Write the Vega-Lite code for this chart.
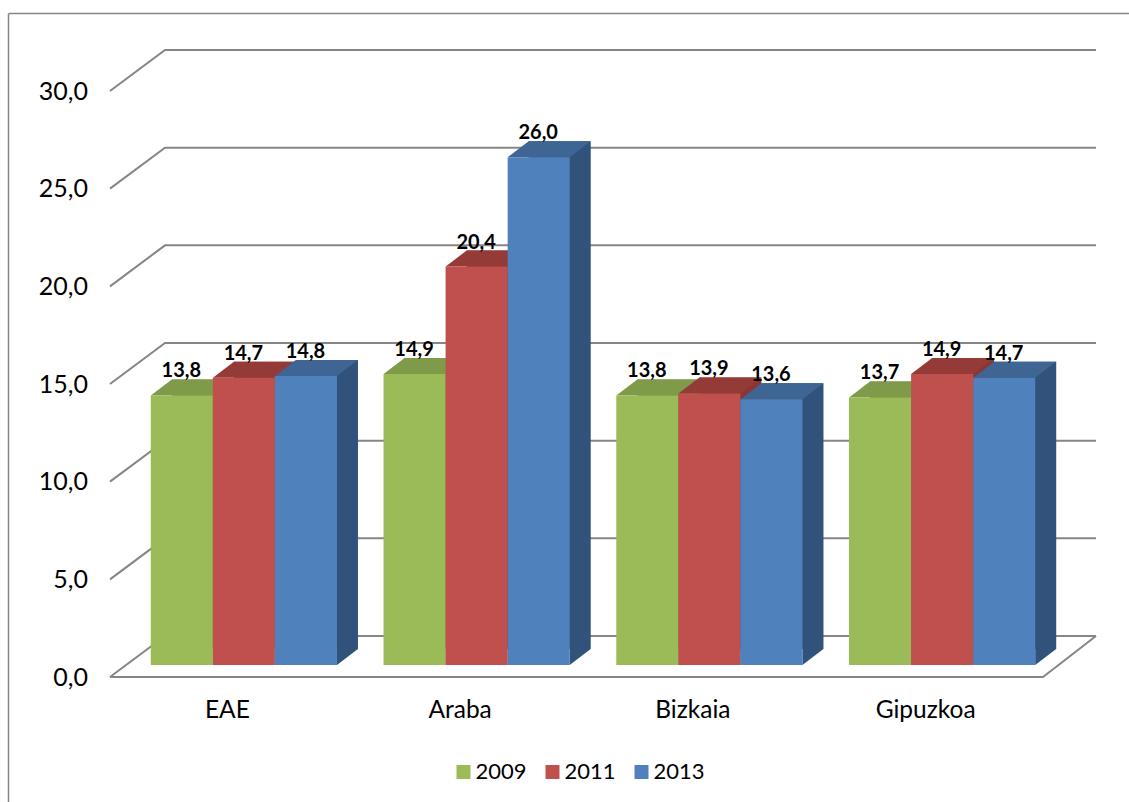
{
"$schema":"https://vega.github.io/schema/vega-lite/v6.json",
"width":931,"height":586,
"autosize":{"type":"none"},
"padding":{"left":127.5,"top":79,"right":70.5,"bottom":137},
"background":"white",
"config":{"view":{"stroke":null},"font":"Lato"},
"datasets":{
"bars":[
{"region":"EAE","year":"2009","value":13.8,"label":"13,8"},
{"region":"EAE","year":"2011","value":14.7,"label":"14,7"},
{"region":"EAE","year":"2013","value":14.8,"label":"14,8"},
{"region":"Araba","year":"2009","value":14.9,"label":"14,9"},
{"region":"Araba","year":"2011","value":20.4,"label":"20,4"},
{"region":"Araba","year":"2013","value":26.0,"label":"26,0"},
{"region":"Bizkaia","year":"2009","value":13.8,"label":"13,8"},
{"region":"Bizkaia","year":"2011","value":13.9,"label":"13,9"},
{"region":"Bizkaia","year":"2013","value":13.6,"label":"13,6"},
{"region":"Gipuzkoa","year":"2009","value":13.7,"label":"13,7"},
{"region":"Gipuzkoa","year":"2011","value":14.9,"label":"14,9"},
{"region":"Gipuzkoa","year":"2013","value":14.7,"label":"14,7"}
],
"grid":[{"v":0},{"v":5},{"v":10},{"v":15},{"v":20},{"v":25},{"v":30}]
},
"resolve":{"scale":{"color":"independent","xOffset":"independent"}},
"layer":[
{"data":{"name":"grid"},
"mark":{"type":"point","filled":false,"size":4,"opacity":1,"stroke":"#868686","strokeWidth":2,"shape":"M-17.5,12 L37.5,-29 L968.5,-29"},
"encoding":{"x":{"value":0},"y":{"field":"v","type":"quantitative","scale":{"domain":[0,30],"nice":false},
"axis":{"domain":false,"ticks":false,"grid":false,"title":null,"values":[0,5,10,15,20,25,30],"labelFont":"Lato","labelFontSize":25,"labelColor":"#000000","labelPadding":40,"labelOffset":12,"labelExpr":"replace(format(datum.value,'.1f'),'.',',')"}}}},
{"data":{"values":[{"v":0}]},
"mark":{"type":"point","filled":false,"size":4,"opacity":1,"stroke":"#868686","strokeWidth":2,"shape":"M-17.5,12 L915.5,12 L968.5,-29"},
"encoding":{"x":{"value":0},"y":{"field":"v","type":"quantitative"}}},
{"data":{"values":[{"v":0}]},
"mark":{"type":"rule","stroke":"#868686","strokeWidth":1.5},
"encoding":{"x":{"value":-119},"y":{"value":-65.5},"y2":{"value":723}}},
{"data":{"values":[{"v":0}]},
"mark":{"type":"rule","stroke":"#868686","strokeWidth":1.5},
"encoding":{"x":{"value":-119},"x2":{"value":1001.5},"y":{"value":-65.5}}},
{"data":{"name":"bars"},
"mark":{"type":"bar","yOffset":-16,"y2Offset":-16},
"encoding":{
"x":{"field":"region","type":"nominal","sort":null,"scale":{"paddingInner":0.2,"paddingOuter":0.1},
"axis":{"domain":false,"ticks":false,"grid":false,"title":null,"labelAngle":0,"labelFont":"Lato","labelFontSize":24.5,"labelColor":"#000000","labelPadding":33,"labelOffset":-16.5}},
"xOffset":{"field":"year","type":"nominal","scale":{"range":[21,207.2]}},
"y":{"field":"value","type":"quantitative"},
"y2":{"datum":0},
"color":{"field":"year","type":"nominal","legend":null,"scale":{"range":["#6F8A3F","#8C3533","#31527A"]}}}},
{"data":{"name":"bars"},
"mark":{"type":"point","filled":true,"size":4,"opacity":1,"strokeWidth":0,"shape":"M31,0 L52,-16 L31,-16 Z"},
"encoding":{
"x":{"field":"region","type":"nominal","sort":null},
"xOffset":{"field":"year","type":"nominal"},
"y":{"datum":0},
"color":{"field":"year","type":"nominal","legend":null,"scale":{"range":["#6F8A3F","#8C3533","#31527A"]}}}},
{"data":{"name":"bars"},
"mark":{"type":"point","filled":true,"size":4,"opacity":1,"strokeWidth":0,"shape":"M-31,0 L31,0 L52,-16 L-10,-16 Z"},
"encoding":{
"x":{"field":"region","type":"nominal","sort":null},
"xOffset":{"field":"year","type":"nominal"},
"y":{"field":"value","type":"quantitative"},
"color":{"field":"year","type":"nominal","legend":null,"scale":{"range":["#7F9A48","#943B38","#3E6593"]}}}},
{"data":{"name":"bars"},
"mark":{"type":"bar"},
"encoding":{
"x":{"field":"region","type":"nominal","sort":null},
"xOffset":{"field":"year","type":"nominal"},
"y":{"field":"value","type":"quantitative"},
"y2":{"datum":0},
"color":{"field":"year","type":"nominal","scale":{"range":["#9BBB59","#C0504D","#4F81BD"]},
"legend":{"title":null,"orient":"none","direction":"horizontal","legendX":325,"legendY":682,"symbolType":"square","symbolSize":196,"symbolStrokeWidth":0,"symbolOpacity":1,"labelFont":"Lato","labelFontSize":22,"labelColor":"#000000","columnPadding":14,"labelOffset":1,"padding":0}}}},
{"data":{"name":"bars"},
"mark":{"type":"text","fontWeight":"bold","font":"Lato","fontSize":20,"color":"#000000","dy":-24,"dx":-0.5,"baseline":"middle"},
"encoding":{
"x":{"field":"region","type":"nominal","sort":null},
"xOffset":{"field":"year","type":"nominal"},
"y":{"field":"value","type":"quantitative"},
"text":{"field":"label","type":"nominal"}}}
]
}
